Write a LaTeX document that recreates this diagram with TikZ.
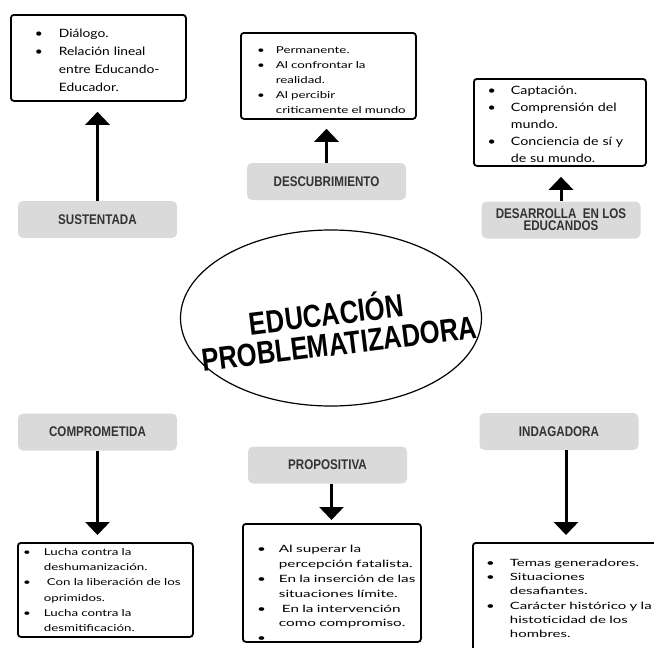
\documentclass[tikz,border=0pt]{standalone}
\usepackage{fontspec}
\setmainfont{Lato}
\newfontfamily\labfont[FakeStretch=0.83]{Liberation Sans}
\newfontfamily\titfont[FakeStretch=0.8]{Liberation Sans}
\usetikzlibrary{shapes.geometric,arrows.meta}
\definecolor{labfill}{HTML}{DADADA}
\definecolor{labtxt}{HTML}{333333}
\newcommand{\blst}[3]{%
 \begin{list}{\textbullet}{\setlength{\leftmargin}{#1}\setlength{\labelsep}{#2}%
 \setlength{\labelwidth}{\dimexpr#1-#2\relax}\setlength{\itemsep}{0pt}%
 \setlength{\parsep}{0pt}\setlength{\topsep}{0pt}\setlength{\partopsep}{0pt}%
 \setlength{\itemindent}{0pt}}#3\end{list}}
\newcommand{\bodyfont}[3]{\fontspec{Lato}[FakeStretch=#1]\fontsize{#2}{#3}\selectfont}
\tikzset{
 infobox/.style={draw, line width=1.8pt, rounded corners=3pt, inner sep=0pt, anchor=north west},
 boxtext/.style={inner sep=0pt, align=left, text width=#1},
 lab/.style={fill=labfill, rounded corners=5pt, minimum width=159pt, minimum height=37pt,
   inner sep=0pt, text=labtxt, align=center,
   font=\labfont\bfseries\fontsize{14}{12}\selectfont},
 arr/.style={line width=3pt, -{Triangle[width=24pt,length=13pt]}},
 tit/.style={font=\titfont\bfseries\fontsize{32}{30.3}\selectfont, rotate=7, align=center, inner sep=0pt}
}
\begin{document}
\begin{tikzpicture}[x=1pt,y=-1pt]
\useasboundingbox (0,0) rectangle (654,648);
\clip (0,0) rectangle (654,648);
% center
\node[draw, ellipse, line width=1.2pt, minimum width=301pt, minimum height=176pt] (c) at (331,318) {};
\node[tit] (t) at (328,327) {EDUCACIÓN\\\hspace*{18pt}PROBLEMATIZADORA};
% labels
\node[lab] (sus) at (97.5,219.5) {SUSTENTADA};
\node[lab] (des) at (326.5,181.5) {DESCUBRIMIENTO};
\node[lab] (dar) at (561,220) {DESARROLLA \ EN LOS\\EDUCANDOS};
\node[lab] (com) at (97.5,432) {COMPROMETIDA};
\node[lab] (pro) at (327.5,465) {PROPOSITIVA};
\node[lab] (ind) at (559,431.5) {INDAGADORA};
% boxes
\node[infobox, minimum width=175pt, minimum height=86pt] (b1) at (10,14) {};
\node[boxtext=175pt, font=\bodyfont{1.2}{11.5}{18}] (b1t) at ([yshift=2pt]b1.center)
 {\blst{48pt}{16pt}{\item Diálogo.\item Relación lineal\\entre Educando-\\Educador.}};
\node[infobox, minimum width=175pt, minimum height=86pt] (b2) at (240,32) {};
\node[boxtext=175pt, font=\bodyfont{1.4}{9.5}{15}] (b2t) at ([yshift=0pt]b2.center)
 {\blst{35pt}{11pt}{\item Permanente.\item Al confrontar la\\realidad.\item Al percibir\\\mbox{criticamente el mundo}}};
\node[infobox, minimum width=172pt, minimum height=87pt] (b3) at (473,78) {};
\node[boxtext=172pt, font=\bodyfont{1.24}{11.5}{17}] (b3t) at ([yshift=2pt]b3.center)
 {\blst{37pt}{15pt}{\item Captación.\item Comprensión del\\mundo.\item Conciencia de sí y\\de su mundo.}};
\node[infobox, minimum width=175pt, minimum height=94pt] (b4) at (17,542) {};
\node[boxtext=175pt, font=\bodyfont{1.4}{9.5}{15.2}] (b4t) at ([yshift=4pt]b4.center)
 {\blst{26pt}{13pt}{\item Lucha contra la\\deshumanización.\item \hspace{3pt}Con la liberación de los\\oprimidos.\item Lucha contra la\\desmitificación.}};
\node[infobox, minimum width=178pt, minimum height=118pt] (b5) at (242,523) {};
\node[boxtext=178pt, font=\bodyfont{1.53}{10}{14.8}] (b5t) at ([yshift=-7pt]b5.center)
 {\blst{36pt}{13pt}{\item Al superar la\\percepción fatalista.\item En la inserción de las\\situaciones límite.\item \hspace{3pt}En la intervención\\como compromiso.\item\mbox{}}};
\node[infobox, minimum width=200pt, minimum height=110pt] (b6) at (472,542) {};
\node[boxtext=200pt, font=\bodyfont{1.5}{10}{14.3}] (b6t) at ([yshift=3pt]b6.center)
 {\blst{37pt}{15pt}{\item Temas generadores.\item Situaciones\\desafiantes.\item Carácter histórico y la\\histoticidad de los\\hombres.}};
% arrows
\draw[arr, shorten >=10pt] (sus.north) -- (sus.north |- b1.south);
\draw[arr, shorten >=9pt] (des.north) -- (des.north |- b2.south);
\draw[arr, shorten >=10pt] (dar.north) -- (dar.north |- b3.south);
\draw[arr, shorten >=7pt] (com.south) -- (com.south |- b4.north);
\draw[arr, shorten >=3pt] ([xshift=4pt]pro.south) -- ([xshift=4pt]pro.south |- b5.north);
\draw[arr, shorten >=7pt] ([xshift=7pt]ind.south) -- ([xshift=7pt]ind.south |- b6.north);
\end{tikzpicture}
\end{document}
